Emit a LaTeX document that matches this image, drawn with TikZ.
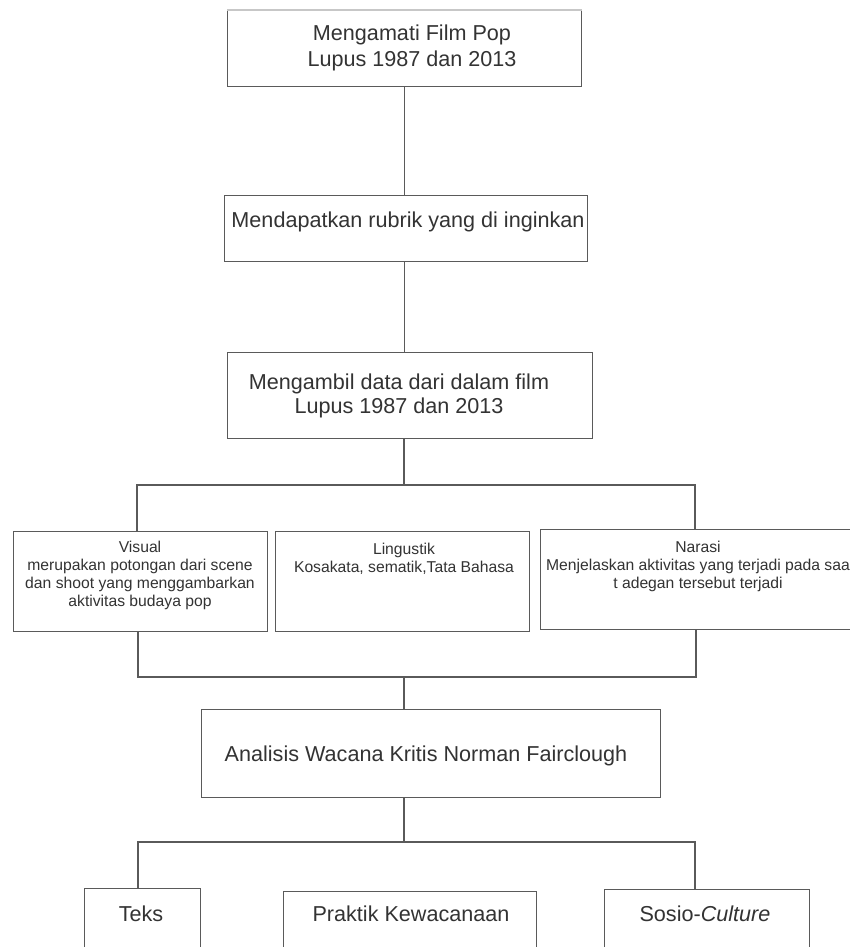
\documentclass[tikz,border=0pt]{standalone}
\usepackage{fontspec}
\setmainfont{Liberation Sans}
\definecolor{linec}{HTML}{5A5A5A}
\definecolor{textc}{HTML}{333333}
\begin{document}
\begin{tikzpicture}[x=1pt,y=-1pt,
  box/.style={draw=linec, line width=1.4pt, rectangle, inner sep=0pt, anchor=north west},
  conn/.style={draw=linec, line width=1.4pt},
  bigt/.style={text=textc, align=center, inner sep=0pt, font=\fontsize{21.6}{26}\selectfont},
  smallt/.style={text=textc, align=center, inner sep=0pt, font=\fontsize{15.7}{18}\selectfont}]
\useasboundingbox (0,0) rectangle (849,947);
\fill[white] (0,0) rectangle (849,947);
% boxes
\node[box, minimum width=354pt, minimum height=76pt] (b1) at (227,10) {};
\node[box, minimum width=363pt, minimum height=66pt] (b2) at (224,195) {};
\node[box, minimum width=365pt, minimum height=86pt] (b3) at (227,352) {};
\node[box, minimum width=254pt, minimum height=100pt] (vis) at (13,531) {};
\node[box, minimum width=254pt, minimum height=100pt] (ling) at (275,531) {};
\node[box, minimum width=340pt, minimum height=100pt] (nar) at (540,529) {};
\node[box, minimum width=459pt, minimum height=88pt] (ana) at (201,709) {};
\node[box, minimum width=116pt, minimum height=80pt] (teks) at (84,888) {};
\node[box, minimum width=253pt, minimum height=80pt] (prak) at (283,891) {};
\node[box, minimum width=205pt, minimum height=80pt] (sos) at (604,889) {};
% faint top edge of first box
\draw[white, line width=2pt] (b1.north west) -- (b1.north east);
\draw[black!22, line width=1.4pt] (b1.north west) -- (b1.north east);
% texts
\node[bigt] (t1) at (412,48) {Mengamati Film Pop\\Lupus 1987 dan 2013};
\node[bigt] (t2) at (408,222) {Mendapatkan rubrik yang di inginkan};
\node[bigt, font=\fontsize{21.6}{24}\selectfont] (t3) at (399,396) {Mengambil data dari dalam film\\Lupus 1987 dan 2013};
\node[smallt] (tvis) at (140,575) {Visual\\merupakan potongan dari scene\\dan shoot yang menggambarkan\\aktivitas budaya pop};
\node[smallt] (tling) at (404,558.5) {Lingustik\\Kosakata, sematik,Tata Bahasa};
\node[smallt] (tnar) at (698,566) {Narasi\\Menjelaskan aktivitas yang terjadi pada saa\\t adegan tersebut terjadi};
\node[bigt] (tana) at (426,756) {Analisis Wacana Kritis Norman Fairclough};
\node[bigt] (tteks) at (141,914) {Teks};
\node[bigt] (tprak) at (411,914) {Praktik Kewacanaan};
\node[bigt] (tsos) at (705,914) {Sosio-\textit{Culture}};
% connector points
\coordinate (s1) at (404,485);
\coordinate (s1L) at (137,485);
\coordinate (s1R) at (695,485);
\coordinate (m1) at (404,677);
\coordinate (m1L) at (138,677);
\coordinate (m1R) at (696,677);
\coordinate (s2) at (404,842);
\coordinate (s2L) at (138,842);
\coordinate (s2R) at (695,842);
% connectors
\draw[conn] (b1.south) -- (b1.south |- b2.north);
\draw[conn] (b1.south |- b2.south) -- (b1.south |- b3.north);
\draw[conn] (s1 |- b3.south) -- (s1);
\draw[conn] (vis.north -| s1L) -- (s1L) -- (s1R) -- (nar.north -| s1R);
\draw[conn] (vis.south -| m1L) -- (m1L) -- (m1R) -- (nar.south -| m1R);
\draw[conn] (m1) -- (m1 |- ana.north);
\draw[conn] (s2 |- ana.south) -- (s2);
\draw[conn] (teks.north -| s2L) -- (s2L) -- (s2R) -- (sos.north -| s2R);
\end{tikzpicture}
\end{document}
